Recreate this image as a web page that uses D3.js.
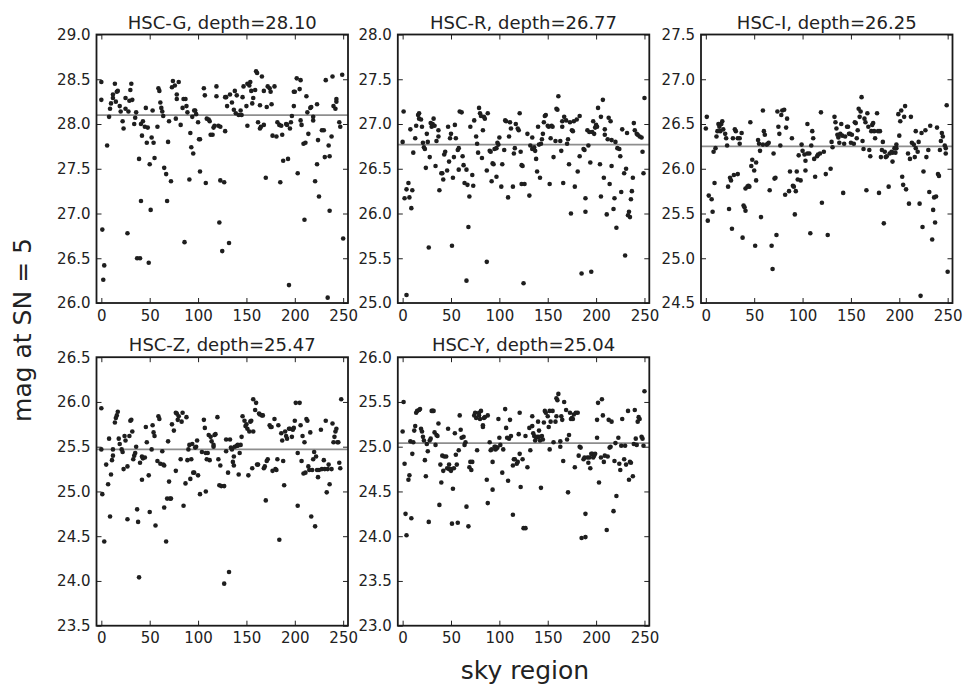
<!DOCTYPE html>
<html>
<head>
<meta charset="utf-8">
<script src="https://cdn.jsdelivr.net/npm/d3@7"></script>
<style>
  html, body { margin: 0; padding: 0; background: #fff; }
  svg { display: block; }
  text { font-family: "DejaVu Sans", sans-serif; fill: #222; }
</style>
</head>
<body>
<svg id="chart" width="964" height="686"></svg>
<script>
// Limiting magnitude at S/N = 5 for each sky region, one array per HSC band: [region, mag]
const magG = [[0,28.47],[0,28.27],[6,27.76],[1,26.82],[3,26.42],[2,26.26],[8,28.08],[9,28.17],[10,28.23],[12,28.29],[12,28.33],[14,28.45],[15,28.25],[16,28.36],[17,28.37],[19,28.20],[20,28.14],[22,28.03],[23,27.95],[25,28.29],[25,28.17],[27,26.78],[28,28.14],[29,28.26],[30,28.38],[31,28.45],[32,28.27],[34,28.00],[35,28.07],[36,28.13],[37,26.50],[40,26.50],[39,27.61],[41,27.14],[41,28.00],[42,27.87],[43,28.03],[45,27.97],[47,27.79],[48,27.96],[46,28.18],[49,26.45],[50,27.55],[51,27.04],[52,27.85],[54,27.79],[55,27.62],[53,28.15],[58,27.97],[59,28.40],[60,28.37],[61,28.24],[62,28.18],[63,28.14],[64,28.09],[65,27.51],[67,27.44],[68,27.14],[69,27.80],[70,28.03],[72,27.36],[73,28.41],[74,28.48],[76,28.43],[77,28.06],[78,28.28],[78,28.33],[80,28.47],[82,27.99],[84,28.18],[85,28.28],[86,26.68],[87,28.28],[88,28.20],[89,28.13],[91,27.38],[92,27.90],[93,27.74],[95,27.67],[94,28.08],[96,28.15],[97,28.15],[98,28.11],[100,28.02],[101,27.83],[102,27.83],[102,27.47],[106,28.40],[107,28.32],[108,27.34],[109,28.06],[111,28.05],[112,28.03],[113,27.88],[115,27.88],[116,27.96],[117,27.98],[119,28.42],[119,28.31],[122,26.90],[121,27.98],[123,27.97],[125,26.58],[123,27.37],[127,27.35],[128,28.30],
  [128,27.92],[132,26.67],[130,28.20],[129,28.30],[133,28.33],[135,28.24],[137,28.16],[138,28.37],[140,28.32],[139,28.12],[142,28.10],[144,28.15],[145,28.10],[146,28.30],[147,28.42],[150,28.20],[151,28.45],[151,27.98],[153,28.43],[154,28.47],[155,28.37],[156,28.23],[157,28.29],[159,28.38],[160,28.59],[161,28.57],[162,28.02],[164,27.95],[164,28.21],[165,27.97],[166,28.53],[168,28.37],[168,27.99],[170,27.40],[171,28.19],[172,28.42],[174,28.40],[175,28.36],[176,28.22],[177,27.87],[179,28.42],[181,27.86],[182,28.02],[184,27.99],[185,27.35],[186,27.98],[187,27.88],[188,27.59],[191,28.00],[192,27.99],[193,27.61],[194,26.20],[195,27.95],[196,28.02],[197,28.09],[199,28.36],[199,28.20],[200,28.36],[202,28.51],[203,27.45],[205,28.39],[206,28.49],[206,28.04],[207,27.99],[209,27.78],[210,26.93],[211,27.79],[212,28.31],[213,28.13],[214,27.89],[216,28.18],[217,28.19],[219,28.04],[219,28.08],[221,27.36],[223,28.22],[223,27.55],[224,27.82],[225,27.19],[228,27.93],[230,27.93],[231,27.63],[232,28.49],[234,26.06],[235,27.76],[236,27.64],[236,27.03],[238,27.86],[239,28.53],[240,28.20],[242,28.17],[243,28.25],[243,28.28],[246,28.02],[247,27.97],[249,28.55],[250,26.72]];

const magR = [[1,27.14],[0,26.80],[2,26.17],[4,26.27],[4,25.09],[6,26.34],[7,26.18],[8,26.94],[9,26.06],[10,26.26],[11,26.68],[13,26.84],[14,26.98],[16,27.10],[17,27.12],[17,27.06],[19,27.05],[20,26.97],[21,26.79],[22,26.74],[23,26.72],[24,26.51],[25,26.89],[26,26.80],[27,25.62],[28,26.63],[29,27.01],[30,26.97],[31,27.00],[32,27.06],[33,26.98],[34,26.53],[35,26.81],[37,26.86],[37,26.93],[38,26.26],[40,26.45],[41,26.45],[42,26.38],[43,26.66],[44,26.69],[46,26.48],[47,26.97],[48,26.58],[49,26.84],[50,26.89],[51,25.64],[52,26.40],[53,26.63],[54,26.99],[55,26.84],[57,26.71],[58,26.49],[58,26.73],[59,27.14],[61,27.13],[62,26.64],[63,26.54],[64,26.34],[66,26.49],[66,25.25],[67,26.32],[68,25.85],[69,26.19],[70,26.97],[72,26.43],[73,26.31],[74,27.04],[76,26.86],[77,26.78],[78,26.68],[79,27.18],[80,27.12],[81,27.09],[82,26.62],[83,26.93],[84,27.08],[85,27.06],[87,26.48],[87,25.46],[88,27.12],[90,26.70],[91,26.69],[92,26.36],[93,26.56],[94,26.55],[95,26.72],[97,26.41],[97,26.73],[98,26.79],[99,26.77],[100,26.85],[102,26.30],[103,26.55],[105,26.71],[106,27.04],[107,27.03],[109,26.18],[110,26.86],[111,27.02],[112,26.95],[114,26.30],[115,26.67],[116,26.73],[117,27.00],[119,26.95],[120,26.93],[121,27.12],[122,26.69],[123,26.54],[124,26.53],[125,25.22],[123,26.33],
  [126,26.33],[129,26.89],[131,26.20],[132,26.76],[134,26.85],[134,26.72],[136,26.74],[137,26.70],[138,26.61],[139,26.47],[140,26.97],[141,26.77],[142,26.40],[143,26.78],[144,26.83],[145,26.89],[146,27.02],[147,27.09],[148,27.10],[150,26.98],[151,26.97],[152,26.33],[153,26.84],[154,26.98],[155,26.97],[156,26.63],[158,26.81],[159,27.17],[160,27.16],[161,27.31],[163,26.81],[164,26.70],[165,27.03],[165,26.97],[166,26.34],[167,27.08],[169,27.04],[170,26.78],[171,26.83],[172,26.55],[173,27.02],[174,26.00],[175,26.93],[176,26.92],[177,27.03],[178,26.30],[180,27.05],[181,26.47],[183,26.64],[183,27.09],[185,25.33],[187,26.72],[188,26.71],[189,26.17],[189,26.02],[191,26.93],[192,26.76],[193,26.91],[194,26.57],[195,25.35],[196,26.91],[197,27.03],[198,26.89],[199,26.96],[200,26.99],[201,26.97],[202,27.18],[204,26.55],[205,26.19],[205,27.08],[207,27.27],[208,26.40],[209,26.88],[209,26.94],[211,25.99],[212,26.83],[213,27.07],[214,26.33],[215,27.03],[216,26.53],[216,26.82],[218,26.05],[219,26.17],[220,26.80],[221,25.84],[222,26.73],[224,26.72],[225,26.64],[226,26.24],[227,26.94],[229,26.45],[230,25.53],[231,26.50],[232,26.90],[233,25.98],[234,26.02],[235,25.96],[236,26.16],[237,26.25],[238,26.40],[239,27.01],[240,26.93],[242,26.89],[243,26.88],[245,26.86],[247,26.85],[248,26.69],[249,26.45],[250,27.29]];

const magI = [[1,26.58],[0,26.45],[2,25.42],[3,25.70],[6,25.66],[7,25.52],[8,26.19],[9,25.84],[10,26.23],[11,26.36],[12,26.42],[13,26.50],[14,26.47],[15,26.42],[16,26.50],[17,26.53],[18,26.44],[20,26.39],[21,26.34],[22,26.26],[23,25.80],[24,25.55],[25,25.90],[26,25.87],[27,25.33],[28,26.34],[29,25.93],[30,26.44],[31,26.42],[33,25.94],[33,26.34],[35,26.28],[35,26.34],[37,26.40],[38,25.23],[39,25.59],[40,25.57],[41,25.53],[41,25.78],[43,25.80],[44,25.81],[45,25.80],[46,26.52],[47,26.03],[48,26.10],[50,25.98],[51,25.14],[52,26.07],[52,25.87],[54,26.32],[55,26.28],[56,26.20],[57,25.46],[59,26.65],[59,26.27],[60,26.42],[61,26.38],[63,26.27],[64,26.28],[65,26.29],[66,25.76],[68,25.14],[69,24.88],[70,26.17],[71,25.89],[72,25.90],[73,25.26],[74,26.64],[75,26.47],[76,26.39],[77,26.26],[78,26.60],[79,26.65],[81,26.66],[82,25.71],[83,26.46],[84,26.56],[86,25.75],[87,25.97],[89,26.34],[90,25.81],[91,25.80],[92,25.49],[93,25.75],[94,25.97],[95,25.88],[96,26.15],[98,25.87],[99,26.27],[100,26.20],[102,26.16],[103,25.98],[103,26.09],[105,26.17],[105,26.50],[107,26.17],[108,25.28],[109,26.26],[110,26.42],[111,26.34],[112,26.11],[113,25.91],[115,26.14],[116,26.16],[118,26.17],[119,26.63],[120,25.62],[122,26.19],[124,25.94],[126,25.26],
  [129,26.00],[130,26.30],[131,26.24],[133,26.58],[134,26.52],[135,26.45],[136,26.38],[137,26.35],[138,26.29],[139,26.39],[140,26.50],[141,26.37],[142,25.73],[143,26.28],[144,26.36],[146,26.47],[147,26.47],[148,26.39],[149,26.39],[150,26.29],[151,26.38],[153,26.28],[154,26.52],[155,26.51],[156,26.34],[157,26.43],[158,26.67],[159,26.58],[160,26.64],[161,26.80],[162,26.31],[163,26.22],[164,26.56],[165,26.52],[166,25.76],[167,26.62],[168,26.47],[169,26.21],[170,26.14],[171,26.42],[172,26.49],[173,26.51],[174,26.42],[175,26.34],[177,26.62],[178,26.42],[179,25.73],[180,26.42],[181,26.13],[182,26.21],[183,26.30],[184,25.39],[185,26.19],[186,26.13],[187,26.14],[189,25.80],[190,26.17],[192,26.19],[193,26.18],[193,26.08],[195,26.23],[196,26.18],[197,26.23],[197,26.27],[199,26.61],[200,26.37],[201,26.53],[202,26.65],[203,25.91],[204,25.82],[205,26.58],[206,26.70],[207,25.77],[209,26.17],[210,25.61],[211,26.11],[212,26.58],[213,26.29],[215,26.27],[216,26.13],[217,26.42],[217,26.23],[219,26.19],[220,26.30],[221,25.61],[222,24.58],[223,26.40],[224,25.35],[225,25.97],[227,26.43],[228,26.13],[230,26.21],[231,25.74],[232,26.48],[234,25.21],[235,25.54],[236,25.68],[237,25.40],[238,25.69],[239,26.46],[240,25.94],[241,25.92],[242,26.21],[243,26.31],[244,26.40],[245,26.36],[247,26.26],[248,26.23],[248,26.17],[249,26.71],[250,24.85]];

const magZ = [[0,25.93],[0,25.47],[1,24.97],[3,24.44],[5,25.30],[7,25.08],[8,25.59],[9,24.72],[10,25.19],[11,25.35],[12,25.40],[12,25.47],[14,25.77],[15,25.82],[16,25.85],[17,25.89],[18,25.59],[19,25.53],[21,25.47],[22,25.44],[23,25.25],[24,25.62],[25,25.57],[27,24.69],[27,25.28],[29,25.62],[30,25.79],[31,25.80],[32,25.67],[33,25.36],[34,25.40],[35,25.43],[36,25.50],[37,24.80],[38,24.66],[39,24.04],[40,25.32],[42,25.13],[42,25.39],[43,25.37],[45,25.38],[47,25.55],[46,25.72],[49,25.18],[50,24.77],[52,25.47],[53,25.74],[54,25.66],[55,25.62],[56,24.62],[58,25.34],[59,25.84],[60,25.81],[61,25.31],[63,25.45],[64,25.30],[65,25.29],[65,24.82],[67,24.44],[68,24.92],[69,25.56],[70,25.11],[71,24.92],[72,24.92],[73,25.75],[75,25.68],[77,25.23],[77,25.88],[78,25.87],[79,25.80],[80,25.84],[82,25.36],[83,25.78],[84,25.88],[85,24.84],[87,25.09],[88,25.83],[89,25.35],[90,25.47],[91,25.52],[92,25.14],[93,25.36],[94,25.53],[95,25.21],[96,25.21],[97,25.49],[98,25.50],[99,25.57],[100,25.18],[102,24.97],[104,25.44],[106,25.80],[107,25.71],[108,25.00],[108,25.43],[109,25.36],[110,25.43],[111,25.63],[112,25.35],[113,25.61],[114,25.56],[116,25.52],[116,25.50],[117,25.63],[118,25.64],[120,25.83],[121,25.36],[122,25.07],[123,25.29],[124,25.06],[127,25.06],[127,23.97],
  [132,24.10],[129,25.45],[129,25.58],[131,25.21],[133,25.58],[134,25.49],[135,25.47],[136,25.33],[137,25.39],[137,25.29],[138,25.50],[140,25.51],[141,25.51],[141,25.52],[142,25.19],[143,25.43],[144,25.52],[145,25.61],[146,25.84],[148,25.79],[149,25.73],[150,25.75],[151,25.70],[152,25.18],[153,25.67],[154,25.78],[155,25.79],[156,25.26],[157,25.67],[157,26.03],[159,25.91],[160,25.99],[161,25.30],[162,25.30],[163,25.87],[164,25.86],[166,25.85],[167,25.85],[168,25.26],[169,25.28],[170,24.90],[171,25.34],[172,25.36],[174,25.74],[175,25.72],[176,25.72],[177,25.23],[179,25.81],[180,25.25],[181,25.24],[182,25.36],[183,25.74],[184,24.46],[186,25.65],[187,25.57],[188,25.34],[189,25.07],[190,25.67],[191,25.62],[192,25.59],[194,25.70],[195,25.70],[197,25.61],[198,25.69],[199,25.71],[200,25.79],[201,25.99],[203,24.84],[203,25.43],[205,25.99],[206,25.74],[207,25.34],[208,25.62],[209,25.20],[210,25.55],[211,25.21],[212,25.81],[213,25.79],[214,25.28],[215,25.24],[216,25.66],[217,24.72],[218,25.24],[219,25.36],[220,25.44],[221,24.61],[222,25.39],[223,25.24],[224,25.16],[225,25.24],[227,25.69],[228,25.25],[230,25.35],[231,25.25],[232,25.79],[233,24.99],[234,25.25],[235,25.30],[236,25.08],[238,25.25],[239,25.76],[240,25.55],[241,25.61],[242,25.67],[243,25.70],[244,25.55],[245,25.55],[246,25.32],[247,25.26],[248,26.03]];

const magY = [[1,25.50],[0,25.17],[2,24.81],[3,24.25],[4,24.01],[6,24.63],[7,24.68],[8,25.06],[9,24.20],[10,24.92],[11,25.05],[12,25.18],[13,25.23],[14,25.38],[15,25.40],[17,25.41],[18,25.42],[19,25.20],[20,25.17],[21,25.11],[22,25.07],[23,24.85],[24,24.67],[25,25.03],[26,24.95],[27,24.16],[28,25.07],[29,25.09],[30,25.40],[31,25.40],[32,25.40],[33,25.16],[34,25.02],[35,25.13],[36,25.12],[37,25.26],[38,24.35],[39,24.80],[40,24.60],[41,24.90],[42,24.73],[43,24.89],[45,24.89],[46,24.76],[47,25.20],[48,24.80],[48,24.75],[50,24.73],[50,24.75],[51,24.14],[52,24.53],[53,24.76],[54,25.15],[55,24.91],[56,24.80],[57,24.15],[58,24.96],[59,25.35],[60,25.19],[61,25.10],[63,25.11],[64,25.02],[65,25.05],[66,24.33],[68,24.11],[69,24.77],[70,24.83],[71,24.74],[72,24.83],[74,25.35],[75,25.38],[76,25.32],[77,24.96],[79,25.38],[79,25.35],[80,25.31],[81,25.40],[83,25.22],[83,25.24],[84,25.32],[85,25.33],[87,24.63],[88,24.37],[88,25.35],[90,25.05],[91,24.96],[92,24.97],[93,24.52],[93,24.83],[95,25.00],[96,25.00],[96,24.97],[97,24.98],[98,24.99],[99,25.31],[100,25.10],[101,25.02],[103,24.71],[104,24.97],[106,25.42],[107,25.21],[108,25.10],[109,24.62],[110,25.09],[111,25.30],[112,25.12],[114,24.24],[114,24.79],[115,24.86],[116,24.86],[118,24.81],[119,24.83],[120,25.14],[121,24.92],[122,24.55],[124,24.86],[125,24.09],
  [121,25.38],[127,24.09],[129,24.77],[127,25.12],[131,25.21],[132,24.96],[134,25.34],[134,25.23],[135,25.15],[136,25.12],[137,25.07],[138,25.10],[139,25.11],[140,25.28],[141,25.11],[141,25.18],[142,25.07],[143,24.54],[144,25.12],[145,25.08],[146,25.27],[147,25.40],[148,25.38],[150,25.34],[151,25.22],[152,25.40],[152,24.97],[153,25.28],[155,25.40],[156,25.05],[158,25.28],[159,25.54],[159,25.34],[160,25.52],[161,25.59],[163,25.06],[163,25.00],[164,25.34],[165,25.30],[166,24.84],[167,25.50],[169,25.41],[170,25.08],[171,24.49],[172,25.13],[173,25.38],[174,25.31],[175,25.32],[176,25.31],[177,25.36],[179,25.38],[178,24.77],[181,25.38],[182,24.90],[183,25.00],[184,24.99],[185,23.98],[187,24.86],[188,24.88],[189,24.25],[189,23.99],[191,24.88],[192,24.82],[193,24.88],[194,24.76],[195,24.92],[196,24.92],[197,24.88],[198,24.90],[199,24.92],[201,25.10],[201,25.30],[202,25.49],[203,24.60],[205,24.88],[206,25.53],[207,25.35],[208,24.83],[209,24.90],[211,24.07],[212,24.89],[213,25.30],[214,24.99],[215,25.00],[216,25.28],[218,24.28],[219,24.84],[220,25.04],[221,24.45],[223,25.10],[224,24.81],[225,24.74],[226,25.01],[227,25.31],[229,24.86],[230,25.01],[231,24.80],[233,25.40],[234,24.63],[235,24.83],[236,24.82],[238,24.67],[239,25.03],[240,25.41],[241,25.09],[242,25.02],[243,25.28],[244,25.33],[245,25.31],[247,25.11],[248,25.09],[249,25.01],[250,25.62]];

// Band names, median depth (horizontal line) and y range per panel
const bands   = ["HSC-G", "HSC-R", "HSC-I", "HSC-Z", "HSC-Y"];
const depths  = [28.10, 26.77, 26.25, 25.47, 25.04];
const yRanges = [[26.0, 29.0], [25.0, 28.0], [24.5, 27.5], [23.5, 26.5], [23.0, 26.0]];
const series  = [magG, magR, magI, magZ, magY];
const xTicks  = [0, 50, 100, 150, 200, 250];
const xRange  = [-5, 255];

const svg = d3.select("#chart");

// Panel frames: 3 columns, 2 rows
const panelW = 251.5, panelH = 268.5;
const colX = [96.5, 397.8, 701];
const rowY = [34.5, 357.2];

bands.forEach((band, i) => {
  const col = i % 3, row = Math.floor(i / 3);
  const g = svg.append("g").attr("transform", `translate(${colX[col]},${rowY[row]})`);

  const x = d3.scaleLinear().domain(xRange).range([0, panelW]);
  const y = d3.scaleLinear().domain(yRanges[i]).range([panelH, 0]);
  const yTicks = d3.range(yRanges[i][0], yRanges[i][1] + 1e-6, 0.5);

  // Depth line
  g.append("line")
    .attr("x1", 0).attr("x2", panelW)
    .attr("y1", y(depths[i])).attr("y2", y(depths[i]))
    .attr("stroke", "#8e8e8e").attr("stroke-width", 1.7);

  // Points
  g.append("g").selectAll("circle")
    .data(series[i])
    .join("circle")
    .attr("cx", d => x(d[0]))
    .attr("cy", d => y(d[1]))
    .attr("r", 2.3)
    .attr("fill", "#1e1e1e");

  // Axes with inward ticks on all four sides
  const styleAxis = sel => {
    sel.select(".domain").remove();
    sel.selectAll(".tick line").attr("stroke", "#222").attr("stroke-width", 1);
    sel.selectAll("text").attr("font-size", 15).attr("fill", "#222")
      .attr("font-family", '"DejaVu Sans", sans-serif');
  };
  g.append("g").attr("transform", `translate(0,${panelH})`)
    .call(d3.axisBottom(x).tickValues(xTicks).tickSizeInner(-5).tickSizeOuter(0).tickPadding(7).tickFormat(d3.format("d")))
    .call(styleAxis);
  g.append("g")
    .call(d3.axisTop(x).tickValues(xTicks).tickSizeInner(-5).tickSizeOuter(0).tickFormat(""))
    .call(styleAxis);
  g.append("g")
    .call(d3.axisLeft(y).tickValues(yTicks).tickSizeInner(-5).tickSizeOuter(0).tickPadding(6).tickFormat(d3.format(".1f")))
    .call(styleAxis);
  g.append("g").attr("transform", `translate(${panelW},0)`)
    .call(d3.axisRight(y).tickValues(yTicks).tickSizeInner(-5).tickSizeOuter(0).tickFormat(""))
    .call(styleAxis);

  // Frame
  g.append("rect")
    .attr("width", panelW).attr("height", panelH)
    .attr("fill", "none").attr("stroke", "#1a1a1a").attr("stroke-width", 1.8);

  // Title
  g.append("text")
    .attr("x", panelW / 2).attr("y", -6)
    .attr("text-anchor", "middle")
    .attr("font-size", 18)
    .text(`${band}, depth=${depths[i].toFixed(2)}`);
});

// Shared axis labels
svg.append("text")
  .attr("transform", "translate(31,330) rotate(-90)")
  .attr("text-anchor", "middle")
  .attr("font-size", 25)
  .text("mag at SN = 5");

svg.append("text")
  .attr("x", 525).attr("y", 679)
  .attr("text-anchor", "middle")
  .attr("font-size", 25)
  .text("sky region");
</script>
</body>
</html>
